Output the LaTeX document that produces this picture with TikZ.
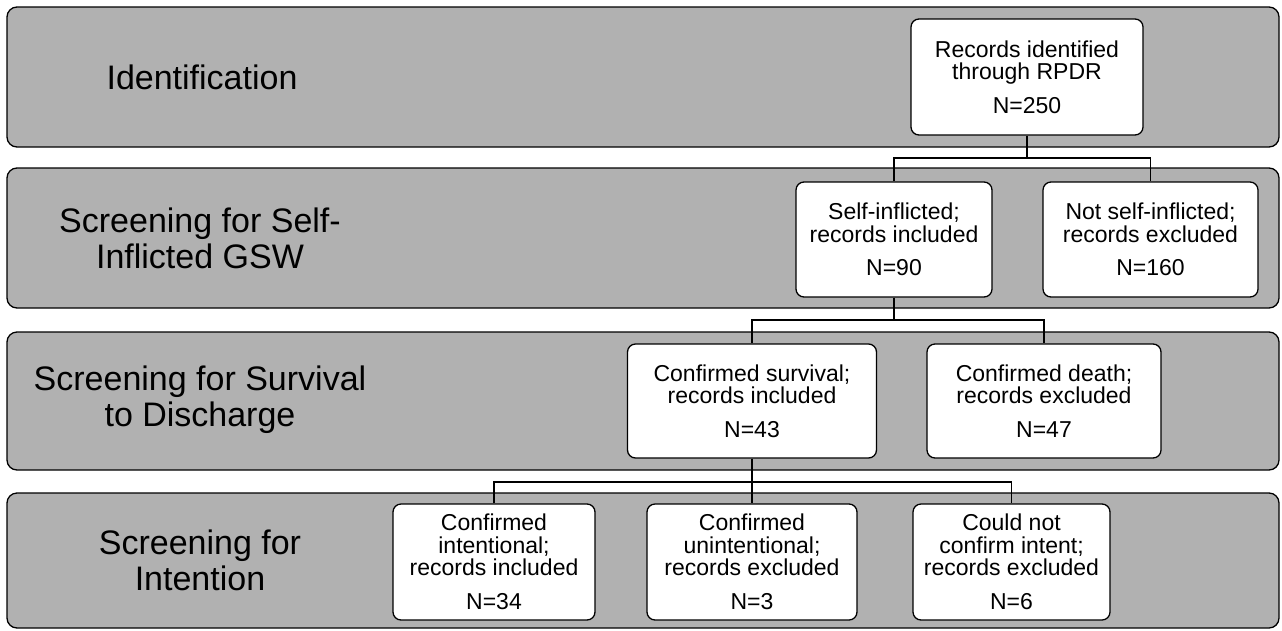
\documentclass[tikz,border=0pt]{standalone}
\usepackage{fontspec}
\setmainfont{Liberation Sans}
\definecolor{bandgray}{HTML}{B1B1B1}
\begin{document}
\begin{tikzpicture}[x=1pt,y=-1pt,
  band/.style={draw=black, line width=1.3pt, fill=bandgray, rounded corners=10pt, inner sep=0pt},
  bandlabel/.style={align=center, inner sep=0pt, font=\fontsize{34}{36}\selectfont},
  box/.style={draw=black, line width=1.3pt, fill=white, rounded corners=8pt, align=center, inner sep=2pt, font=\fontsize{23}{22.5}\selectfont},
  conn/.style={draw=black, line width=1.3pt}]
\useasboundingbox (0,0) rectangle (1282,630);
% bands
\node[band, minimum width=1272, minimum height=140] (b1) at (643,77) {};
\node[band, minimum width=1272, minimum height=140] (b2) at (643,238) {};
\node[band, minimum width=1272, minimum height=138] (b3) at (643,401) {};
\node[band, minimum width=1272, minimum height=135] (b4) at (643,560.5) {};
% band labels
\node[bandlabel] (l1) at (202,77) {Identification};
\node[bandlabel] (l2) at (200,238) {Screening for Self-\\Inflicted GSW};
\node[bandlabel] (l3) at (200,400) {Screening for Survival\\to Discharge};
\node[bandlabel] (l4) at (200,560) {Screening for\\Intention};
% boxes
\node[box, minimum width=232, minimum height=116] (rec) at (1027,77) {Records identified\\through RPDR\\[11pt]N=250};
\node[box, minimum width=196, minimum height=115] (self) at (894,239.5) {Self-inflicted;\\records included\\[11pt]N=90};
\node[box, minimum width=215, minimum height=115] (nots) at (1150.5,239.5) {Not self-inflicted;\\records excluded\\[11pt]N=160};
\node[box, minimum width=249, minimum height=114] (surv) at (752,401) {Confirmed survival;\\records included\\[11pt]N=43};
\node[box, minimum width=234, minimum height=114] (death) at (1044,401) {Confirmed death;\\records excluded\\[11pt]N=47};
\node[box, minimum width=202, minimum height=116] (intn) at (494,562) {Confirmed\\intentional;\\records included\\[11pt]N=34};
\node[box, minimum width=210, minimum height=116] (unin) at (752,562) {Confirmed\\unintentional;\\records excluded\\[11pt]N=3};
\node[box, minimum width=197, minimum height=116] (cnc) at (1011.5,562) {Could not\\confirm intent;\\records excluded\\[11pt]N=6};
% junctions
\coordinate (j1) at (1027,158);
\coordinate (j2) at (894,320);
\coordinate (j3) at (752,482);
% connectors
\draw[conn] (rec.south) -- (j1);
\draw[conn] (self.north) -- (self.north |- j1) -- (nots.north |- j1) -- (nots.north);
\draw[conn] (self.south) -- (j2);
\draw[conn] (surv.north) -- (surv.north |- j2) -- (death.north |- j2) -- (death.north);
\draw[conn] (surv.south) -- (j3);
\draw[conn] (intn.north) -- (intn.north |- j3) -- (cnc.north |- j3) -- (cnc.north);
\draw[conn] (j3) -- (unin.north);
\end{tikzpicture}
\end{document}
